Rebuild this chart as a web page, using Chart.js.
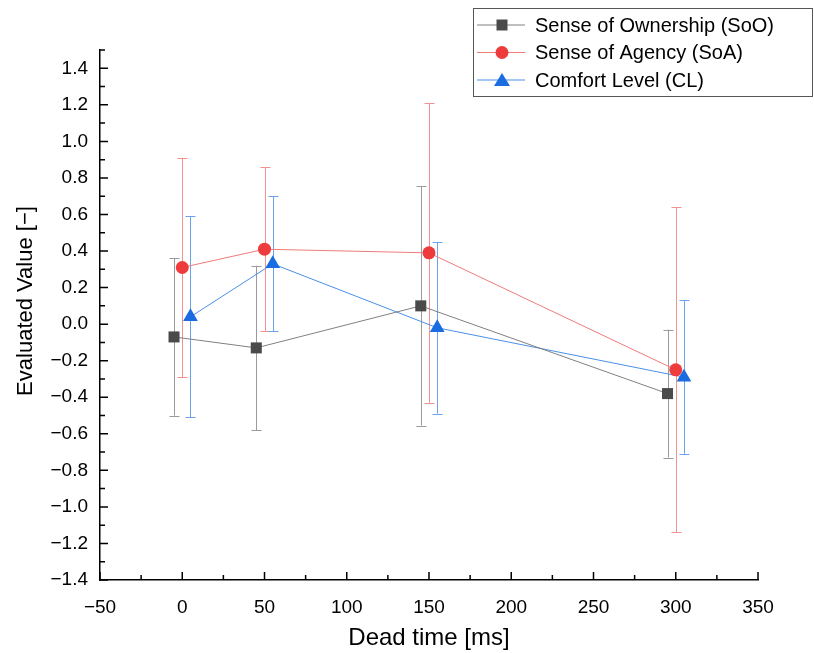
<!DOCTYPE html>
<html>
<head>
<meta charset="utf-8">
<script src="https://cdn.jsdelivr.net/npm/chart.js@4.4.0/dist/chart.umd.min.js"></script>
<style>
  html, body { margin: 0; padding: 0; background: #fff; }
  #wrap { width: 814px; height: 653px; }
</style>
</head>
<body>
<div id="wrap"><canvas id="chart" width="814" height="653"></canvas></div>
<script>
// Evaluated value vs dead time, mean +- sd per condition

const deadTime = [0, 50, 150, 300];
const seriesNames = ['Sense of Ownership (SoO)', 'Sense of Agency (SoA)', 'Comfort Level (CL)'];
const xOffset = [-5, 0, 5]; // small horizontal shift so bars don't overlap

const sooMean = [-0.07, -0.13, 0.10, -0.38];
const sooErr  = [0.43, 0.45, 0.655, 0.35];
const soaMean = [0.31, 0.41, 0.39, -0.25];
const soaErr  = [0.60, 0.45, 0.82, 0.89];
const clMean  = [0.04, 0.33, -0.02, -0.29];
const clErr   = [0.55, 0.37, 0.47, 0.42];

const yTicks = [-1.4, -1.2, -1.0, -0.8, -0.6, -0.4, -0.2, 0.0, 0.2, 0.4, 0.6, 0.8, 1.0, 1.2, 1.4];
const xTicks = [-50, 0, 50, 100, 150, 200, 250, 300, 350];
const yTitle = 'Evaluated Value [\u2212]';
const xTitle = 'Dead time [ms]';

const FONT = "'Liberation Sans', Arial, sans-serif";
const minus = s => String(s).replace('-', '\u2212');

const means = [sooMean, soaMean, clMean];
const errs = [sooErr, soaErr, clErr];
const markerColor = ['#4a4a4a', '#ee3b3b', '#1a6de0'];
const lineColor = ['#808080', '#f07a7a', '#4a8fe8'];
const barColor = ['#9a9a9a', '#f39090', '#6aa3ec'];
const pointStyle = ['rect', 'circle', 'triangle'];
const pointRadius = [7.8, 6.5, 8.5];

const datasets = means.map((m, s) => ({
    label: seriesNames[s],
    data: deadTime.map((t, i) => ({ x: t + xOffset[s], y: m[i] })),
    showLine: true,
    borderColor: lineColor[s],
    borderWidth: 1,
    backgroundColor: markerColor[s],
    pointBackgroundColor: markerColor[s],
    pointBorderColor: markerColor[s],
    pointBorderWidth: 0,
    pointStyle: pointStyle[s],
    pointRadius: pointRadius[s],
    errors: errs[s],
    barColor: barColor[s]
}));

// error bars drawn behind the markers
const errorBars = {
    id: 'errorBars',
    beforeDatasetsDraw(chart) {
        const ctx = chart.ctx;
        const y = chart.scales.y;
        ctx.save();
        chart.data.datasets.forEach((ds, di) => {
            const meta = chart.getDatasetMeta(di);
            ctx.strokeStyle = ds.barColor;
            ctx.lineWidth = 1;
            meta.data.forEach((pt, i) => {
                const v = ds.data[i].y, e = ds.errors[i];
                const top = y.getPixelForValue(v + e), bot = y.getPixelForValue(v - e);
                const px = Math.round(pt.x) + 0.5;
                ctx.beginPath();
                ctx.moveTo(px, top); ctx.lineTo(px, bot);
                ctx.moveTo(px - 5, Math.round(top) + 0.5); ctx.lineTo(px + 5, Math.round(top) + 0.5);
                ctx.moveTo(px - 5, Math.round(bot) + 0.5); ctx.lineTo(px + 5, Math.round(bot) + 0.5);
                ctx.stroke();
            });
        });
        ctx.restore();
    }
};

// inward major/minor ticks on left and bottom axes, plus y title
const inwardTicks = {
    id: 'inwardTicks',
    afterDraw(chart) {
        const ctx = chart.ctx;
        const xs = chart.scales.x, ys = chart.scales.y;
        const a = chart.chartArea;
        ctx.save();
        ctx.strokeStyle = '#000';
        ctx.lineWidth = 1.5;
        ctx.beginPath();
        for (let v = xs.min; v <= xs.max; v += 25) {
            const px = xs.getPixelForValue(v);
            const len = v % 50 === 0 ? 8 : 5;
            ctx.moveTo(px, a.bottom); ctx.lineTo(px, a.bottom - len);
        }
        for (let k = Math.round(ys.min * 10); k <= Math.round(ys.max * 10); k++) {
            const py = ys.getPixelForValue(k / 10);
            const len = k % 2 === 0 ? 8 : 5;
            ctx.moveTo(a.left, py); ctx.lineTo(a.left + len, py);
        }
        ctx.stroke();

        // y axis title sits a little above the axis middle in the original
        ctx.translate(26, 301);
        ctx.rotate(-Math.PI / 2);
        ctx.font = '22px ' + FONT;
        ctx.fillStyle = '#000';
        ctx.textAlign = 'center';
        ctx.textBaseline = 'middle';
        ctx.fillText(yTitle, 0, 0);
        ctx.restore();
    }
};

// boxed legend with line + marker samples
const boxLegend = {
    id: 'boxLegend',
    afterDraw(chart) {
        const ctx = chart.ctx;
        const bx = 473, by = 8, bw = 339, bh = 88;
        ctx.save();
        ctx.fillStyle = '#fff';
        ctx.fillRect(bx, by, bw, bh);
        ctx.strokeStyle = '#555';
        ctx.lineWidth = 1;
        ctx.strokeRect(bx + 0.5, by + 0.5, bw, bh);
        ctx.font = '20px ' + FONT;
        ctx.textBaseline = 'middle';
        chart.data.datasets.forEach((ds, i) => {
            const ry = by + 17 + i * 27.5;
            ctx.strokeStyle = ds.borderColor;
            ctx.lineWidth = 1;
            ctx.beginPath();
            ctx.moveTo(bx + 4, ry); ctx.lineTo(bx + 52, ry);
            ctx.stroke();
            ctx.fillStyle = ds.pointBackgroundColor;
            const cx = bx + 29;
            ctx.beginPath();
            if (ds.pointStyle === 'rect') {
                ctx.rect(cx - 5.5, ry - 5.5, 11, 11);
            } else if (ds.pointStyle === 'circle') {
                ctx.arc(cx, ry, 6.5, 0, Math.PI * 2);
            } else {
                ctx.moveTo(cx, ry - 7); ctx.lineTo(cx + 8, ry + 6); ctx.lineTo(cx - 8, ry + 6); ctx.closePath();
            }
            ctx.fill();
            ctx.fillStyle = '#000';
            ctx.fillText(ds.label, bx + 62, ry + 1);
        });
        ctx.restore();
    }
};

new Chart(document.getElementById('chart'), {
    type: 'scatter',
    data: { datasets },
    plugins: [errorBars, inwardTicks, boxLegend],
    options: {
        responsive: false,
        animation: false,
        layout: { padding: { left: 0, right: 56, top: 50, bottom: 0 } },
        plugins: { legend: { display: false }, tooltip: { enabled: false } },
        scales: {
            x: {
                type: 'linear',
                min: -50, max: 350,
                afterBuildTicks: s => { s.ticks = xTicks.map(v => ({ value: v })); },
                afterFit: s => { s.height = 73; },
                grid: { display: false, drawTicks: false },
                border: { display: true, color: '#000', width: 1.5 },
                ticks: {
                    color: '#000', padding: 16,
                    font: { family: FONT, size: 19 },
                    callback: v => minus(v)
                },
                title: {
                    display: true, text: xTitle, color: '#000',
                    font: { family: FONT, size: 24 }, padding: { top: 0, bottom: 0 }
                }
            },
            y: {
                type: 'linear',
                min: -1.4, max: 1.5,
                afterBuildTicks: s => { s.ticks = yTicks.map(v => ({ value: v })); },
                afterFit: s => { s.width = 100; },
                grid: { display: false, drawTicks: false },
                border: { display: true, color: '#000', width: 1.5 },
                ticks: {
                    color: '#000', padding: 12,
                    font: { family: FONT, size: 19 },
                    callback: v => minus(v.toFixed(1))
                },
                title: { display: false }
            }
        }
    }
});
</script>
</body>
</html>
